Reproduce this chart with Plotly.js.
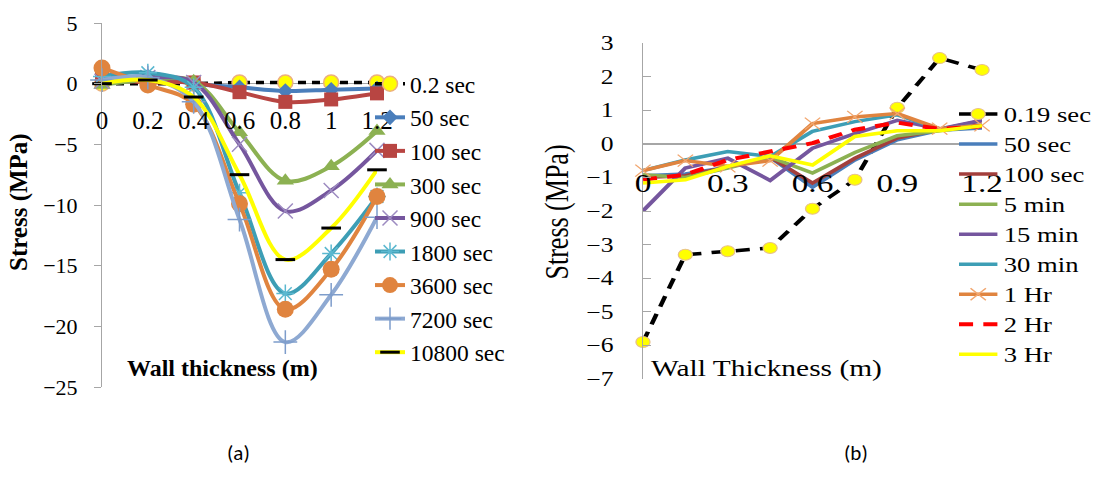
<!DOCTYPE html>
<html>
<head>
<meta charset="utf-8">
<script src="https://cdn.plot.ly/plotly-3.0.1.min.js"></script>
<style>
html,body{margin:0;padding:0;background:#fff;}
#pa{position:absolute;left:0;top:0;width:1099px;height:496px;}
#pb{position:absolute;left:500px;top:0;width:468px;height:496px;transform:scaleX(1.28);transform-origin:0 0;}
</style>
</head>
<body>
<div id="pa"></div>
<div id="pb"></div>
<script>
// ---------- Panel (a) data ----------
const xA = [0, 0.2, 0.4, 0.6, 0.8, 1.0, 1.2];
const xTicksA = [0, 0.2, 0.4, 0.6, 0.8, 1, 1.2];
const xTickTextA = ['0', '0.2', '0.4', '0.6', '0.8', '1', '1.2'];
const namesA = ['0.2 sec', '50 sec', '100 sec', '300 sec', '900 sec', '1800 sec', '3600 sec', '7200 sec', '10800 sec'];
const a_0_2s  = [0, 0, 0, 0.1, 0.1, 0.1, 0.1];
const a_50s   = [0.3, 0.6, 0, -0.3, -0.6, -0.5, -0.4];
const a_100s  = [0.4, 0.1, 0.1, -0.7, -1.5, -1.3, -0.8];
const a_300s  = [-0.1, 0.3, 0.2, -4.0, -8.0, -6.8, -3.9];
const a_900s  = [0.2, 0.5, 0.1, -5.0, -10.5, -8.8, -5.5];
const a_1800s = [0.6, 0.9, -0.3, -9.0, -17.3, -14.0, -9.3];
const a_3600s = [1.3, -0.1, -1.7, -9.9, -18.6, -15.3, -9.3];
const a_7200s = [0.3, 0.5, -1.5, -11.2, -21.3, -17.4, -11.0];
const a_10800s= [0, 0.3, -1.1, -7.5, -14.5, -11.9, -7.1];

// ---------- Panel (b) data ----------
const xB = [0, 0.15, 0.3, 0.45, 0.6, 0.75, 0.9, 1.05, 1.2];
const xTicksB = [0, 0.3, 0.6, 0.9, 1.2];
const xTickTextB = ['0', '0.3', '0.6', '0.9', '1.2'];
const namesB = ['0.19 sec', '50 sec', '100 sec', '5 min', '15 min', '30 min', '1 Hr', '2 Hr', '3 Hr'];
const b_019s = [-5.9, -3.3, -3.2, -3.1, -1.93, -1.07, 1.07, 2.55, 2.2];
const b_50s  = [-0.95, -0.9, -0.7, -0.4, -1.29, -0.48, 0.12, 0.4, 0.47];
const b_100s = [-1.0, -0.95, -0.7, -0.4, -1.17, -0.43, 0.17, 0.42, 0.69];
const b_5m   = [-0.92, -1.0, -0.72, -0.4, -0.87, -0.26, 0.24, 0.4, 0.54];
const b_15m  = [-2.0, -0.72, -0.43, -1.09, -0.13, 0.3, 0.7, 0.44, 0.7];
const b_30m  = [-0.8, -0.48, -0.23, -0.38, 0.37, 0.66, 0.86, 0.44, 0.56];
const b_1h   = [-0.8, -0.5, -0.67, -0.5, 0.6, 0.8, 0.9, 0.45, 0.55];
const b_2h   = [-1.07, -0.92, -0.48, -0.23, 0.02, 0.42, 0.63, 0.44, 0.52];
const b_3h   = [-1.17, -1.07, -0.67, -0.36, -0.63, 0.22, 0.39, 0.39, 0.54];

const SERIF = 'Liberation Serif, Times New Roman, serif';
const GRAY = '#a6a6a6';

// ---------- Panel (a) ----------
const seriesA = [a_0_2s, a_50s, a_100s, a_300s, a_900s, a_1800s, a_3600s, a_7200s, a_10800s];
const styleA = [
  {line:{color:'#000000', width:3.5, dash:'8px,6px'}, marker:{symbol:'circle', size:15, color:'#FFFF00', line:{color:'#EDB07E', width:1.5}}},
  {line:{color:'#4A7EBB', width:4}, marker:{symbol:'diamond', size:12, color:'#4A7EBB'}},
  {line:{color:'#B84542', width:4}, marker:{symbol:'square', size:14, color:'#B84542'}},
  {line:{color:'#8CB152', width:4}, marker:{symbol:'triangle-up', size:15, color:'#8CB152'}},
  {line:{color:'#75569E', width:4}, marker:{symbol:'x-thin-open', size:15, color:'#9D8BC1', line:{width:1.5, color:'#9D8BC1'}}},
  {line:{color:'#3D9EB5', width:4}, marker:{symbol:'asterisk-open', size:15, color:'#5BB8D0', line:{width:1.5, color:'#5BB8D0'}}},
  {line:{color:'#E0843F', width:4}, marker:{symbol:'circle', size:17, color:'#E0843F'}},
  {line:{color:'#8EA9D2', width:4}, marker:{symbol:'cross-thin-open', size:17, color:'#7E9DCB', line:{width:1.5, color:'#7E9DCB'}}},
  {line:{color:'#FFFF00', width:4}, marker:{symbol:'line-ew-open', size:14, color:'#000000', line:{width:3, color:'#000000'}}}
];
const tracesA = seriesA.map((ys, i) => ({
  type:'scatter', mode:'lines+markers', x:xA, y:ys, name:namesA[i],
  legendgroup:'a'+i, cliponaxis:false,
  line:Object.assign({shape: i===0 ? 'linear' : 'spline', smoothing:1}, styleA[i].line),
  marker:styleA[i].marker
}));

const layoutA = {
  width:1099, height:496, margin:{l:0, r:0, t:0, b:0},
  paper_bgcolor:'#ffffff', plot_bgcolor:'rgba(0,0,0,0)',
  showlegend:true,
  font:{family:SERIF, color:'#000'},
  xaxis:{domain:[102/1099, 377/1099], range:[0, 1.2], anchor:'free', position:1-103/496,
    tickvals:xTicksA, ticktext:xTickTextA, ticks:'', showline:false, showgrid:false, zeroline:false,
    tickfont:{family:SERIF, size:25, color:'#000'}, fixedrange:true},
  yaxis:{domain:[1-387/496, 1-23/496], range:[-25, 5], dtick:5, tick0:0,
    showline:true, linecolor:GRAY, linewidth:1, ticks:'outside', ticklen:7, tickcolor:GRAY,
    showgrid:false, zeroline:true, zerolinecolor:GRAY, zerolinewidth:1,
    ticklabelstandoff:12, tickfont:{family:SERIF, size:22, color:'#000'}},
  legend:{x:370/1099, y:1-62/496, xanchor:'left', yanchor:'top', bgcolor:'rgba(0,0,0,0)',
    font:{family:SERIF, size:23.5, color:'#000'}, tracegroupgap:0, traceorder:'grouped', itemwidth:30},
  annotations:[
    {text:'<b>Stress (MPa)</b>', xref:'paper', yref:'paper', x:19/1099, y:1-202/496, textangle:-90,
      showarrow:false, font:{family:SERIF, size:25, color:'#000'}, xanchor:'center', yanchor:'middle'},
    {text:'<b>Wall thickness (m)</b>', xref:'paper', yref:'paper', x:125/1099, y:1-368/496,
      showarrow:false, font:{family:SERIF, size:24, color:'#000'}, xanchor:'left', yanchor:'middle'},
    {text:'(a)', xref:'paper', yref:'paper', x:225/1099, y:1-468/496, showarrow:false,
      font:{family:'Carlito, Liberation Sans Narrow, Liberation Sans, sans-serif', size:21, color:'#000'}},
    {text:'(b)', xref:'paper', yref:'paper', x:870/1099, y:1-468/496, showarrow:false,
      font:{family:'Carlito, Liberation Sans Narrow, Liberation Sans, sans-serif', size:21, color:'#000'}}
  ]
};
Plotly.newPlot('pa', tracesA, layoutA, {staticPlot:true, displayModeBar:false});

// ---------- Panel (b) ----------
const seriesB = [b_019s, b_50s, b_100s, b_5m, b_15m, b_30m, b_1h, b_2h, b_3h];
const styleB = [
  {mode:'lines+markers', line:{color:'#000000', width:3.5, dash:'11px,8px'}, marker:{symbol:'circle', size:11, color:'#FFFF00', line:{color:'#E8C08A', width:1}}},
  {mode:'lines', line:{color:'#4A7EBB', width:3.5}},
  {mode:'lines', line:{color:'#A33F3C', width:3.5}},
  {mode:'lines', line:{color:'#8CB152', width:3.5}},
  {mode:'lines', line:{color:'#75569E', width:3.5}},
  {mode:'lines', line:{color:'#3D9EB5', width:3.5}},
  {mode:'lines+markers', line:{color:'#E0843F', width:3.5}, marker:{symbol:'x-thin-open', size:12, color:'#F2A770', line:{width:1.2, color:'#F2A770'}}},
  {mode:'lines', line:{color:'#FF0000', width:4, dash:'11px,8px'}},
  {mode:'lines', line:{color:'#FFFF00', width:3.5}}
];
const tracesB = seriesB.map((ys, i) => Object.assign({
  type:'scatter', x:xB, y:ys, name:namesB[i], legendgroup:'b'+i, cliponaxis:false
}, styleB[i]));

const WB = 468;
const layoutB = {
  width:WB, height:496, margin:{l:0, r:0, t:0, b:0},
  paper_bgcolor:'rgba(0,0,0,0)', plot_bgcolor:'rgba(0,0,0,0)',
  showlegend:true,
  font:{family:SERIF, color:'#000'},
  xaxis:{domain:[111.7/WB, 376.6/WB], range:[0, 1.2], anchor:'free', position:1-165/496,
    tickvals:xTicksB, ticktext:xTickTextB, ticks:'', showline:false, showgrid:false, zeroline:false,
    tickfont:{family:SERIF, size:26, color:'#000'}},
  yaxis:{domain:[1-379/496, 1-43/496], range:[-7, 3], dtick:1, tick0:0,
    showline:true, linecolor:GRAY, linewidth:1, ticks:'inside', ticklen:6, tickcolor:GRAY,
    showgrid:false, zeroline:true, zerolinecolor:GRAY, zerolinewidth:1.5,
    ticklabelstandoff:18, tickfont:{family:SERIF, size:20, color:'#000'}},
  legend:{x:353.6/WB, y:1-94/496, xanchor:'left', yanchor:'top', bgcolor:'rgba(0,0,0,0)',
    font:{family:SERIF, size:20.8, color:'#000'}, tracegroupgap:0, traceorder:'grouped', itemwidth:30},
  annotations:[
    {text:'Stress (MPa)', xref:'paper', yref:'paper', x:44.5/WB, y:1-212/496, textangle:-90,
      showarrow:false, font:{family:SERIF, size:26, color:'#000'}, xanchor:'center', yanchor:'middle'},
    {text:'Wall Thickness (m)', xref:'paper', yref:'paper', x:115.6/WB, y:1-368/496,
      showarrow:false, font:{family:SERIF, size:23, color:'#000'}, xanchor:'left', yanchor:'middle'}
  ]
};
Plotly.newPlot('pb', tracesB, layoutB, {staticPlot:true, displayModeBar:false});
</script>
</body>
</html>
